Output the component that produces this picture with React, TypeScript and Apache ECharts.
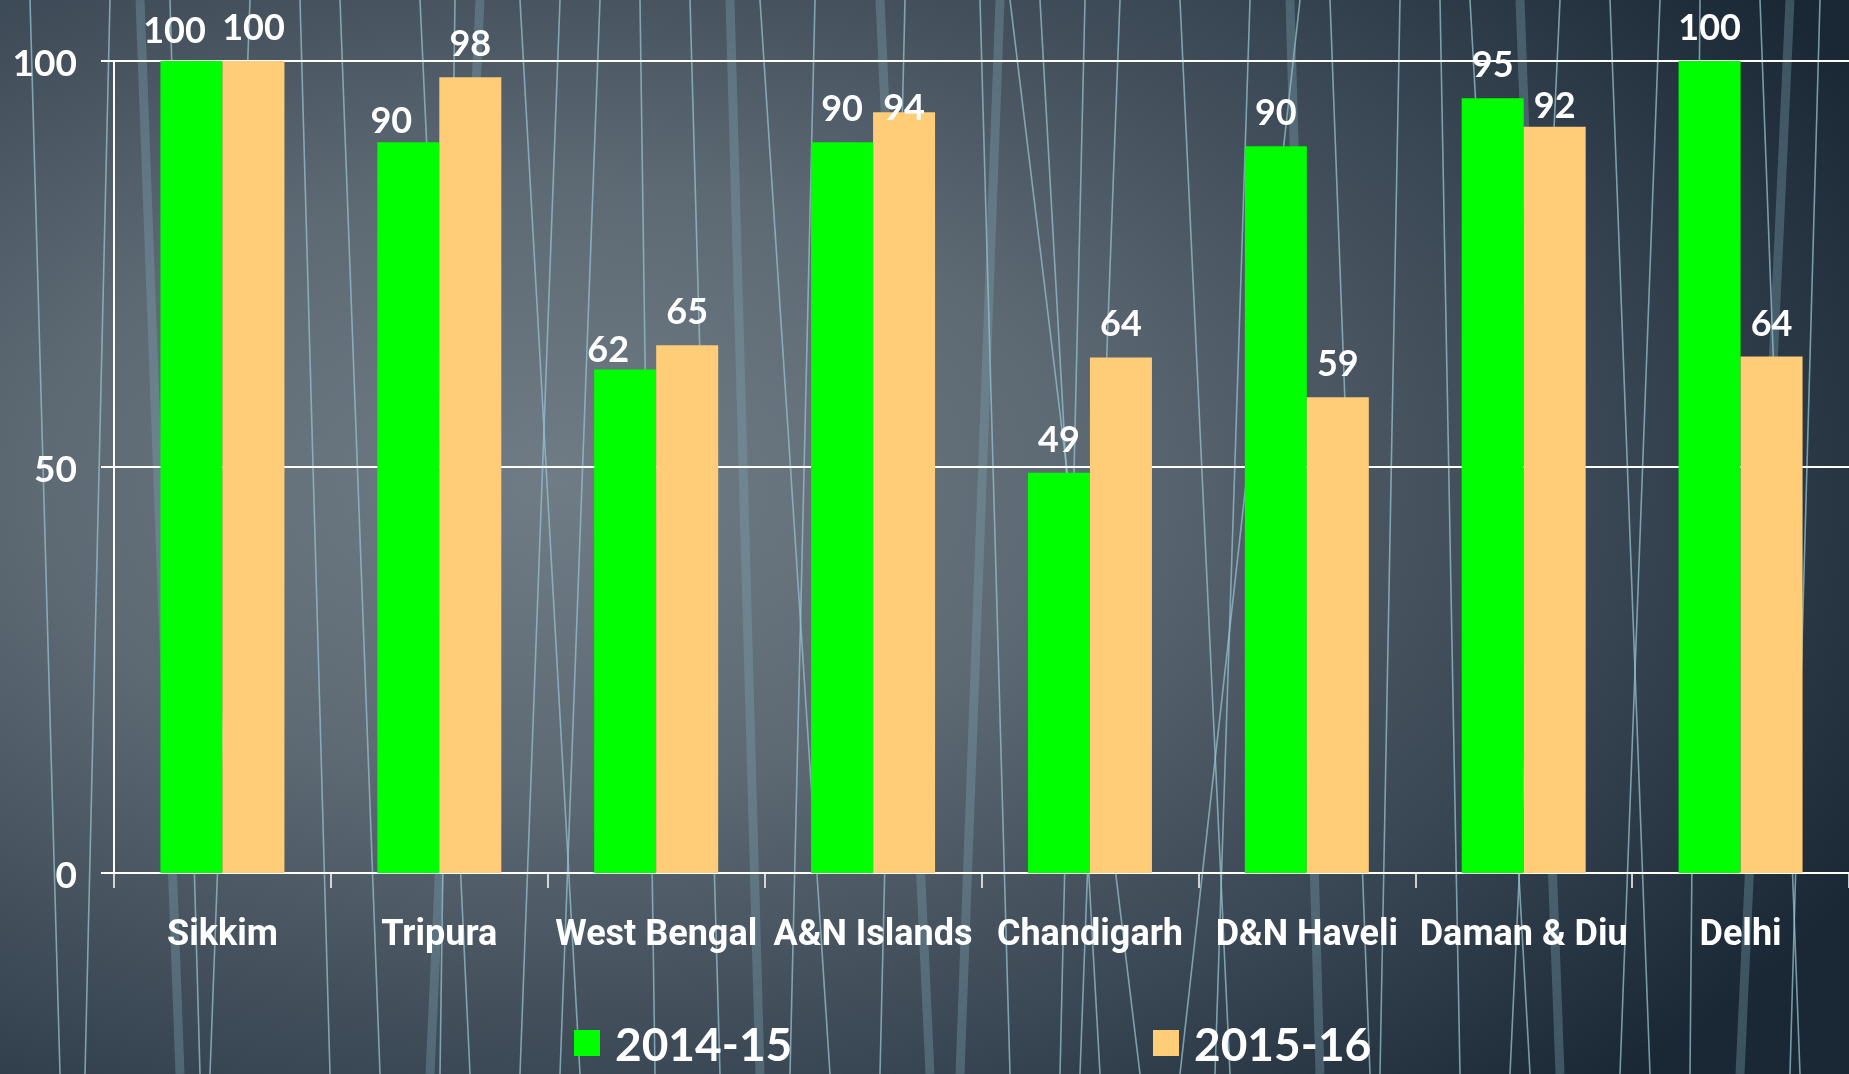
import React, { useEffect, useRef } from "react";
import * as echarts from "echarts";

const categories = ["Sikkim", "Tripura", "West Bengal", "A&N Islands", "Chandigarh", "D&N Haveli", "Daman & Diu", "Delhi"];
const seriesNames = ["2014-15", "2015-16"];
const values2014 = [100, 90, 62, 90, 49.3, 89.5, 95.4, 100];
const values2015 = [100, 98, 65, 93.7, 63.5, 58.6, 91.9, 63.6];
const yTicks = { min: 0, max: 100, interval: 50 };

const GREEN = "#00FF00";
const ORANGE = "#FFCC77";

// manual nudges of a few value labels (as placed in the original slide)
const labelNudges2014: Record<number, [number, number]> = { 0: [-17, 3], 1: [-17, 12], 2: [-17, 13] };
const labelNudges2015: Record<number, [number, number]> = { 3: [0, 29], 6: [0, 12] };

// decorative background strokes: [x at top, x at bottom]
const thinStrokes: [number, number][] = [
  [30, 60], [110, 85], [170, 200], [250, 210], [340, 380], [420, 470], [455, 440], [520, 580],
  [600, 560], [690, 720], [760, 830], [815, 790], [905, 880], [980, 1010], [1040, 1100],
  [1120, 1080], [1180, 1230], [1250, 1215], [1330, 1370], [1400, 1380], [1470, 1530],
  [1560, 1510], [1610, 1650], [1700, 1690], [1760, 1800], [1820, 1790], [1300, 1180],
  [640, 655], [1085, 1060], [1440, 1460], [300, 330], [1010, 1140], [560, 520], [1660, 1620],
];
const wideStrokes: [number, number][] = [
  [140, 180], [480, 430], [880, 930], [1000, 960], [1290, 1320], [1520, 1560], [1790, 1740], [730, 760],
];

function buildData(vals: number[], nudges: Record<number, [number, number]>) {
  return vals.map((v, i) =>
    nudges[i] ? { value: v, label: { offset: nudges[i] } } : v
  );
}

export default function App() {
  const ref = useRef<HTMLDivElement>(null);
  useEffect(() => {
    if (!ref.current) return;
    const chart = echarts.init(ref.current, undefined, { renderer: "svg" });
    const H = 1074;
    const graphics: any[] = [];
    wideStrokes.forEach(([a, b]) =>
      graphics.push({
        type: "line", silent: true, z: -10,
        shape: { x1: a, y1: 0, x2: b, y2: H },
        style: { stroke: "rgba(125,165,180,0.35)", lineWidth: 9 },
      })
    );
    thinStrokes.forEach(([a, b]) =>
      graphics.push({
        type: "line", silent: true, z: -9,
        shape: { x1: a, y1: 0, x2: b, y2: H },
        style: { stroke: "rgba(150,192,206,0.75)", lineWidth: 1.6 },
      })
    );
    const valueLabel = {
      show: true,
      position: "top",
      distance: 17,
      color: "#ffffff",
      fontFamily: "Lato",
      fontWeight: "bold",
      fontSize: 36,
      formatter: (p: any) => String(Math.round(p.value)),
    };
    const legendBase = {
      icon: "rect",
      itemWidth: 26,
      itemHeight: 26,
      top: 1018,
      padding: 0,
      textStyle: {
        color: "#ffffff",
        fontFamily: "Lato",
        fontWeight: "bold",
        fontSize: 46,
        lineHeight: 50,
        padding: [0, 0, 0, 10],
      },
    };
    chart.setOption({
      animation: false,
      backgroundColor: {
        type: "radial",
        x: 0.3,
        y: 0.45,
        r: 0.8,
        colorStops: [
          { offset: 0, color: "#6f7c86" },
          { offset: 0.35, color: "#5d6973" },
          { offset: 0.7, color: "#3a4754" },
          { offset: 1, color: "#1a2734" },
        ],
      },
      graphic: graphics,
      legend: [
        { ...legendBase, left: 574, data: [seriesNames[0]] },
        { ...legendBase, left: 1153, data: [seriesNames[1]] },
      ],
      grid: { left: 114, right: -6, top: 61, bottom: 201, containLabel: false },
      xAxis: {
        type: "category",
        data: categories,
        axisLine: { show: true, lineStyle: { color: "#ffffff", width: 2 } },
        axisTick: { show: true, length: 15, lineStyle: { color: "#ffffff", width: 1.5 } },
        axisLabel: {
          interval: 0,
          color: "#ffffff",
          fontFamily: "Roboto",
          fontWeight: "bold",
          fontSize: 36,
          margin: 42,
        },
      },
      yAxis: {
        type: "value",
        min: yTicks.min,
        max: yTicks.max,
        interval: yTicks.interval,
        axisLine: { show: true, lineStyle: { color: "#ffffff", width: 2 } },
        axisTick: { show: true, length: 13, lineStyle: { color: "#ffffff", width: 2 } },
        splitLine: { show: true, lineStyle: { color: "#ffffff", width: 2 } },
        axisLabel: {
          color: "#ffffff",
          fontFamily: "Lato",
          fontWeight: "bold",
          fontSize: 37,
          margin: 37,
        },
      },
      series: [
        {
          name: seriesNames[0],
          type: "bar",
          barWidth: 62,
          barGap: "0%",
          itemStyle: { color: GREEN },
          label: valueLabel,
          data: buildData(values2014, labelNudges2014),
        },
        {
          name: seriesNames[1],
          type: "bar",
          barWidth: 62,
          barGap: "0%",
          itemStyle: { color: ORANGE },
          label: valueLabel,
          data: buildData(values2015, labelNudges2015),
        },
      ],
    });
    return () => chart.dispose();
  }, []);
  return (
    <div
      ref={ref}
      style={{ position: "fixed", left: 0, top: 0, width: 1849, height: 1074 }}
    />
  );
}
